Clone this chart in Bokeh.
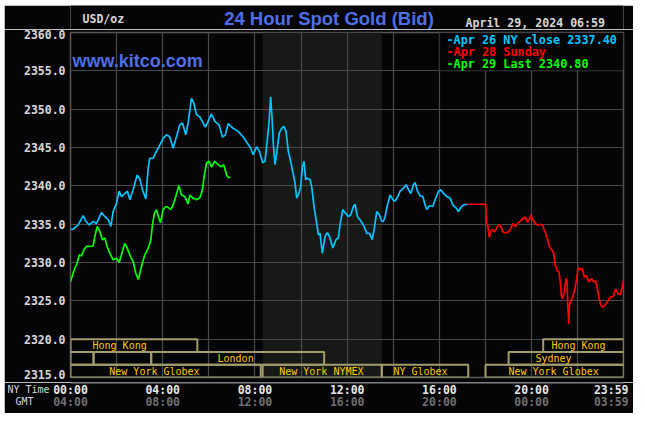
from bokeh.plotting import figure
from bokeh.layouts import column
from bokeh.models import (Range1d, FixedTicker, NumeralTickFormatter, LinearAxis,
                          Label, BoxAnnotation, ColumnDataSource)
from bokeh.core.properties import value
from bokeh.embed import file_html
from bokeh.resources import INLINE

# ---------------- data (hours after 00:00 NY time, USD/oz) ----------------
apr26_hours = [0.0, 0.116, 0.332, 0.549, 0.665, 0.809, 0.983, 1.127, 1.344, 1.488, 1.633, 1.749,
               1.85, 1.994, 2.11, 2.211, 2.355, 2.471, 2.572, 2.717, 2.89, 3.006, 3.121, 3.266,
               3.367, 3.439, 3.584, 3.728, 3.873, 4.017, 4.162, 4.306, 4.451, 4.595, 4.74, 4.855,
               5.0, 5.101, 5.246, 5.347, 5.462, 5.607, 5.751, 5.853, 5.968, 6.113, 6.257, 6.445,
               6.59, 6.72, 6.835, 7.052, 7.269, 7.486, 7.673, 7.803, 7.92, 8.07, 8.19,
               8.333, 8.434, 8.535, 8.608, 8.68, 8.738, 8.796, 8.868, 8.941, 9.056, 9.158, 9.259,
               9.346, 9.447, 9.548, 9.635, 9.737, 9.809, 9.91, 9.983, 10.055, 10.127, 10.2, 10.272,
               10.388, 10.46, 10.562, 10.677, 10.75, 10.822, 10.923, 11.039, 11.14, 11.256, 11.372,
               11.517, 11.617, 11.69, 11.806, 11.907, 12.052, 12.153, 12.269, 12.342, 12.443,
               12.559, 12.66, 12.732, 12.848, 12.964, 13.08, 13.166, 13.282, 13.398, 13.499,
               13.572, 13.644, 13.745, 13.861, 13.977, 14.078, 14.194, 14.295, 14.44, 14.556,
               14.657, 14.758, 14.874, 14.946, 15.048, 15.163, 15.279, 15.38, 15.452, 15.569,
               15.713, 15.815, 15.959, 16.061, 16.177, 16.321, 16.466, 16.582, 16.727, 16.828,
               16.929, 17.045, 17.219]
apr26_price = [2334.3, 2334.35, 2334.9, 2336.1, 2335.35, 2334.9, 2335.35, 2335.1, 2336.5, 2336.0,
               2335.6, 2334.7, 2336.65, 2337.7, 2339.3, 2338.6, 2339.0, 2339.3, 2338.2, 2339.5,
               2341.4, 2340.9, 2339.5, 2338.3, 2342.3, 2343.6, 2343.6, 2344.5, 2345.3, 2346.2,
               2346.65, 2346.4, 2344.9, 2346.4, 2347.95, 2348.2, 2346.65, 2348.2, 2351.4, 2350.8,
               2349.3, 2349.0, 2348.2, 2347.65, 2348.4, 2349.4, 2348.4, 2347.95, 2346.35, 2346.65,
               2348.1, 2347.5, 2347.1, 2346.4, 2345.55, 2345.0, 2344.05, 2345.1, 2344.5,
               2343.0, 2343.2, 2346.0, 2348.2, 2351.6, 2349.05, 2345.55, 2342.75, 2344.25, 2346.9,
               2347.5, 2347.75, 2347.1, 2344.5, 2343.2, 2341.9, 2340.35, 2338.4, 2339.05, 2339.9,
               2342.5, 2343.2, 2340.8, 2341.0, 2340.8, 2339.9, 2337.3, 2335.1, 2333.6, 2333.8,
               2331.2, 2333.4, 2333.9, 2333.2, 2331.9, 2333.0, 2333.2, 2334.9, 2336.9, 2336.5,
               2336.0, 2336.2, 2337.3, 2337.6, 2336.0, 2335.55, 2335.1, 2334.7, 2333.8, 2333.8,
               2333.0, 2334.25, 2336.65, 2336.2, 2335.35, 2335.35, 2336.0, 2337.5, 2338.8, 2338.2,
               2338.0, 2338.6, 2339.3, 2339.7, 2340.15, 2339.5, 2339.0, 2340.15, 2340.45, 2339.3,
               2338.7, 2338.6, 2337.5, 2336.9, 2337.4, 2337.3, 2338.2, 2339.3, 2339.5, 2339.05,
               2338.6, 2338.4, 2337.5, 2337.1, 2336.65, 2337.2, 2337.5, 2337.6]

apr28_hours = [17.219, 18.0, 18.043, 18.101, 18.159, 18.232, 18.304, 18.391, 18.493, 18.594, 18.667,
               18.754, 18.855, 19.0, 19.101, 19.188, 19.29, 19.391, 19.507, 19.623, 19.725, 19.797,
               19.899, 19.971, 20.058, 20.159, 20.261, 20.377, 20.478, 20.551, 20.638, 20.71,
               20.783, 20.884, 20.957, 21.029, 21.101, 21.188, 21.246, 21.29, 21.348, 21.42,
               21.493, 21.536, 21.565, 21.609, 21.638, 21.71, 21.797, 21.87, 21.942, 22.014,
               22.087, 22.188, 22.29, 22.377, 22.478, 22.594, 22.696, 22.768, 22.841, 22.913,
               22.986, 23.058, 23.159, 23.275, 23.42, 23.536, 23.638, 23.739, 23.855, 23.928, 23.971]
apr28_price = [2337.6, 2337.6, 2335.1, 2334.65, 2333.3, 2334.0, 2334.3, 2334.0, 2334.55, 2334.95,
               2334.65, 2334.0, 2333.85, 2334.0, 2334.45, 2335.1, 2334.65, 2335.1, 2335.4, 2335.75,
               2335.95, 2335.3, 2335.6, 2336.2, 2335.5, 2335.1, 2334.85, 2335.0, 2334.85, 2334.2,
               2333.55, 2332.7, 2332.0, 2331.6, 2331.15, 2329.6, 2328.95, 2328.75, 2327.2, 2325.7,
               2325.25, 2326.35, 2327.9, 2327.45, 2324.6, 2322.0, 2324.4, 2325.05, 2325.7, 2326.55,
               2327.65, 2329.4, 2329.05, 2329.2, 2328.1, 2328.3, 2327.45, 2327.9, 2327.45, 2327.65,
               2326.8, 2325.5, 2324.6, 2324.15, 2324.4, 2324.8, 2325.5, 2325.55, 2326.55, 2325.9,
               2325.8, 2326.8, 2327.6]

apr29_hours = [0.0, 0.072, 0.188, 0.289, 0.376, 0.477, 0.578, 0.694, 0.838, 0.983, 1.055, 1.156,
               1.272, 1.387, 1.488, 1.59, 1.705, 1.85, 1.994, 2.11, 2.211, 2.355, 2.428, 2.572,
               2.717, 2.832, 2.948, 3.078, 3.223, 3.367, 3.483, 3.555, 3.642, 3.728, 3.829, 3.902,
               4.017, 4.133, 4.234, 4.35, 4.451, 4.566, 4.697, 4.812, 4.957, 5.101, 5.173, 5.318,
               5.462, 5.607, 5.723, 5.795, 5.896, 6.012, 6.113, 6.257, 6.402, 6.546, 6.647, 6.763,
               6.835, 6.936]
apr29_price = [2327.5, 2328.2, 2329.25, 2329.9, 2331.0, 2330.85, 2331.65, 2332.1, 2332.1, 2332.15,
               2333.4, 2334.7, 2334.05, 2332.95, 2333.2, 2332.1, 2331.2, 2330.35, 2330.55, 2330.0,
               2331.0, 2332.5, 2332.1, 2331.0, 2330.1, 2328.6, 2327.8, 2329.5, 2331.0, 2331.85,
               2332.95, 2334.9, 2336.45, 2336.9, 2335.8, 2335.2, 2336.9, 2337.3, 2337.2, 2336.9,
               2337.5, 2338.6, 2340.0, 2338.8, 2338.6, 2337.65, 2338.8, 2338.4, 2338.2, 2338.4,
               2339.5, 2341.2, 2342.95, 2343.2, 2342.45, 2343.2, 2342.75, 2342.5, 2342.75, 2341.45,
               2341.1, 2341.1]

series_labels = ["-Apr 26 NY close 2337.40", "-Apr 28 Sunday", "-Apr 29 Last 2340.80"]
series_colors = ["#00c4ff", "#ff0000", "#00ff00"]

y_ticks = [2315, 2320, 2325, 2330, 2335, 2340, 2345, 2350, 2355, 2360]
x_tick_hours = [0, 4, 8, 12, 16, 20, 23.45]
ny_time_labels = ["00:00", "04:00", "08:00", "12:00", "16:00", "20:00", "23:59"]
gmt_labels = ["04:00", "08:00", "12:00", "16:00", "20:00", "00:00", "03:59"]

# market sessions: name, row (0 = top), start hour, end hour
session_names = ["Hong Kong", "", "", "London", "New York Globex", "New York NYMEX",
                 "NY Globex", "New York Globex", "Sydney", "Hong Kong"]
session_rows = [0, 1, 1, 1, 2, 2, 2, 2, 1, 0]
session_start = [0.0, 0.0, 1.0, 3.5, 0.0, 8.333, 13.5, 18.0, 19.0, 20.5]
session_end = [5.5, 1.0, 3.5, 11.0, 8.25, 13.5, 17.25, 24.0, 24.0, 24.0]
session_text_at = [2.13, 0.5, 2.25, 7.16, 3.64, 10.88, 15.18, 20.95, 20.95, 22.03]
nymex_open, nymex_close = 8.333, 13.5

title_text = "24 Hour Spot Gold (Bid)"
unit_text = "USD/oz"
stamp_text = "April 29, 2024 06:59"
site_text = "www.kitco.com"

# ---------------- styling ----------------
BG = "#050407"
GRID = "#4a4a4a"
MONO = "DejaVu Sans Mono"
BLUE = "#4f6fe8"
LIGHT = "#d8d8d8"
W = 629

# ---------------- header (title, unit, time stamp) ----------------
H_H = 24
head = figure(width=W, height=H_H, x_range=Range1d(0, W), y_range=Range1d(H_H, 0),
              output_backend="svg", toolbar_location=None, x_axis_location=None,
              y_axis_location=None, min_border=0, background_fill_color=BG,
              border_fill_color=BG, outline_line_color=None)
head.grid.visible = False
head.text(x=[294], y=[13.3], text=[title_text], text_color=BLUE,
          text_font=value("Liberation Sans"), text_font_style="bold",
          text_font_size="18.5px", text_align="center", text_baseline="middle")
head.text(x=[61], y=[13], text=[unit_text], text_color=LIGHT, text_font=value(MONO),
          text_font_style="bold", text_font_size="11.5px", text_align="right",
          text_baseline="middle")
head.text(x=[608], y=[17.5], text=[stamp_text], text_color=LIGHT, text_font=value(MONO),
          text_font_style="bold", text_font_size="11.6px", text_align="right",
          text_baseline="middle")

# ---------------- main chart ----------------
x_range = Range1d(0, 23.983)
p = figure(width=W, height=353, x_range=x_range, y_range=Range1d(2315, 2360),
           output_backend="svg", toolbar_location=None, x_axis_location=None,
           min_border_left=66, min_border_right=10, min_border_top=3, min_border_bottom=5,
           background_fill_color=BG, border_fill_color=BG)
p.outline_line_color = "#5a5a5a"
p.outline_line_width = 1.5

# the bottom label sits a little above its line (as on the original), so it stays on canvas
label_ticks = [y_ticks[0] + 0.33] + y_ticks[1:]
ya = p.yaxis[0]
ya.ticker = FixedTicker(ticks=label_ticks)
ya.formatter = NumeralTickFormatter(format="0.0")
ya.major_label_overrides = {label_ticks[0]: f"{y_ticks[0]:.1f}"}
ya.axis_line_color = None
ya.major_tick_line_color = None
ya.minor_tick_line_color = None
ya.major_tick_out = 0
ya.major_tick_in = 0
ya.major_label_standoff = 5
ya.major_label_text_font = MONO
ya.major_label_text_font_style = "bold"
ya.major_label_text_font_size = "11.5px"
ya.major_label_text_color = LIGHT

p.xgrid.ticker = FixedTicker(ticks=list(range(0, 25, 2)))
p.ygrid.ticker = FixedTicker(ticks=y_ticks)
p.xgrid.grid_line_color = GRID
p.ygrid.grid_line_color = GRID
p.xgrid.grid_line_width = 1.2
p.ygrid.grid_line_width = 1.2

# NYMEX shaded hours (below grid)
p.add_layout(BoxAnnotation(left=nymex_open, right=nymex_close, fill_color="#161916",
                           fill_alpha=1, line_alpha=0, level="image"))
# legend box (covers grid)
p.add_layout(BoxAnnotation(left=16, right=23.983, bottom=2355, top=2360, fill_color=BG,
                           fill_alpha=1, line_color="#5a5a5a", line_width=1.5, level="underlay"))

for hrs, vals, col in [(apr26_hours, apr26_price, series_colors[0]),
                       (apr28_hours, apr28_price, series_colors[1]),
                       (apr29_hours, apr29_price, series_colors[2])]:
    p.line(hrs, vals, line_color=col, line_width=1.7)

row_h = 5.0 / 3.0
src = ColumnDataSource(dict(
    left=session_start, right=session_end,
    top=[2320 - r * row_h for r in session_rows],
    bottom=[2320 - (r + 1) * row_h for r in session_rows],
    mid=[2320 - (r + 0.5) * row_h for r in session_rows],
    tx=session_text_at, name=session_names))
p.quad(left="left", right="right", top="top", bottom="bottom", source=src,
       fill_alpha=0, line_color="#a39d6c", line_width=2)
p.text(x="tx", y="mid", text="name", source=src, text_color="#ffc800",
       text_font=value(MONO), text_font_size="10px", text_align="center",
       text_baseline="middle")

# texts inside the frame (screen px from frame's left / bottom; frame is 553 x 345)
FH = 345
p.add_layout(Label(x=2, y=FH - 28, x_units="screen", y_units="screen", text=site_text,
                   text_color=BLUE, text_font="Liberation Sans", text_font_style="bold",
                   text_font_size="18px", text_baseline="alphabetic"))
for i, (t, c) in enumerate(zip(series_labels, series_colors)):
    p.add_layout(Label(x=376, y=FH - 7.5 - i * 12.2, x_units="screen", y_units="screen",
                       text=t, text_color=c, text_font=MONO, text_font_style="bold",
                       text_font_size="11.8px", text_baseline="middle"))

# ---------------- footer: time axes ----------------
foot = figure(width=W, height=31, x_range=x_range, y_range=Range1d(0, 1),
              output_backend="svg", toolbar_location=None, y_axis_location=None,
              min_border_left=66, min_border_right=10, min_border_top=0, min_border_bottom=30,
              background_fill_color=BG, border_fill_color=BG, outline_line_color=None)
foot.grid.visible = False
xa = foot.xaxis[0]
gmt_axis = LinearAxis()
foot.add_layout(gmt_axis, "below")
for ax, labels, color, standoff in [(xa, ny_time_labels, "#e8e8e8", -1),
                                    (gmt_axis, gmt_labels, "#707070", -5)]:
    ax.ticker = FixedTicker(ticks=x_tick_hours)
    ax.major_label_overrides = {h: lab for h, lab in zip(x_tick_hours, labels)}
    ax.axis_line_color = None
    ax.major_tick_line_color = None
    ax.minor_tick_line_color = None
    ax.major_tick_out = 0
    ax.major_tick_in = 0
    ax.major_label_standoff = standoff
    ax.major_label_text_font = MONO
    ax.major_label_text_font_style = "bold"
    ax.major_label_text_font_size = "11.5px"
    ax.major_label_text_color = color

foot.add_layout(Label(x=-21, y=-5.5, x_units="screen", y_units="screen", text="NY Time",
                      text_color=LIGHT, text_font=MONO, text_font_size="10px",
                      text_baseline="middle"), "left")
foot.add_layout(Label(x=5, y=-18, x_units="screen", y_units="screen", text="GMT",
                      text_color=LIGHT, text_font=MONO, text_font_size="10px",
                      text_baseline="middle"), "left")

page = column(head, p, foot, margin=(5, 0, 0, 4), spacing=0)
open("out.html", "w").write(file_html(page, INLINE))
